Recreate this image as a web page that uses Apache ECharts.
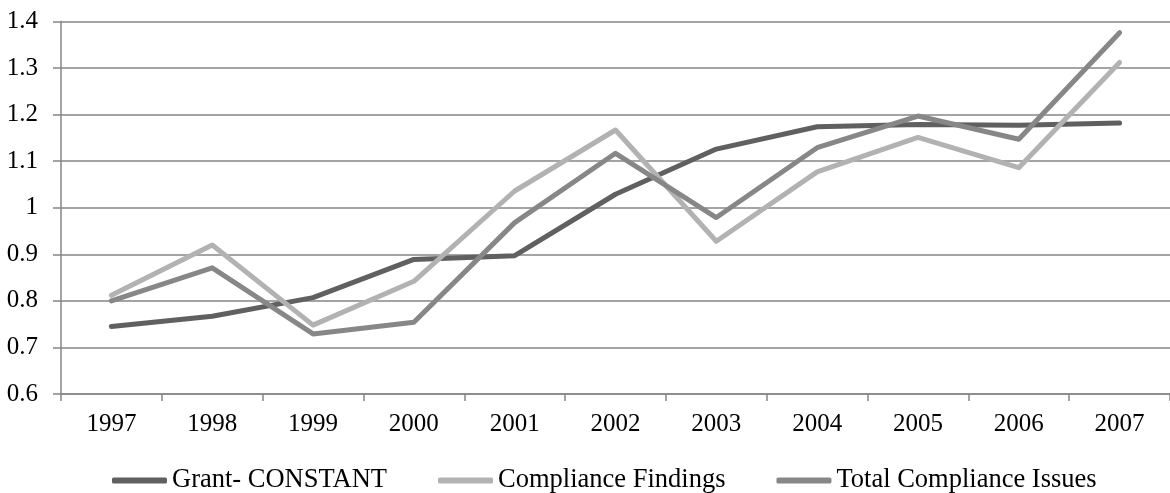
<!DOCTYPE html>
<html>
<head>
<meta charset="utf-8">
<script src="https://cdn.jsdelivr.net/npm/echarts@6/dist/echarts.min.js"></script>
<style>
  html, body { margin: 0; padding: 0; background: #fff; }
  #chart { width: 1170px; height: 493px; }
</style>
</head>
<body>
<div id="chart"></div>
<script>
// Years on the category axis
const years = ['1997', '1998', '1999', '2000', '2001', '2002', '2003', '2004', '2005', '2006', '2007'];

// Index values per year
const grantConstant = [0.745, 0.767, 0.807, 0.889, 0.897, 1.029, 1.126, 1.174, 1.179, 1.177, 1.182];
const complianceFindings = [0.812, 0.920, 0.748, 0.842, 1.036, 1.167, 0.928, 1.077, 1.151, 1.086, 1.312];
const totalComplianceIssues = [0.800, 0.871, 0.729, 0.754, 0.968, 1.117, 0.979, 1.129, 1.197, 1.147, 1.376];

const seriesNames = ['Grant- CONSTANT', 'Compliance Findings', 'Total Compliance Issues'];
const seriesColors = ['#606060', '#b2b2b2', '#878787'];

const font = '"Liberation Serif", "Times New Roman", serif';

const chart = echarts.init(document.getElementById('chart'), null, { renderer: 'canvas' });

function lineSeries(name, data, color) {
  return {
    name: name,
    type: 'line',
    data: data,
    symbol: 'none',
    lineStyle: { width: 5, color: color, cap: 'round', join: 'round' },
    itemStyle: { color: color },
    z: 3
  };
}

chart.setOption({
  animation: false,
  backgroundColor: '#ffffff',
  grid: { left: 61, top: 21.5, width: 1116, height: 372.5, containLabel: false },
  legend: {
    top: 462,
    left: 107,
    itemWidth: 55,
    itemHeight: 6,
    itemGap: 51,
    icon: 'roundRect',
    textStyle: { fontFamily: font, fontSize: 26.5, color: '#000' },
    data: seriesNames
  },
  xAxis: {
    type: 'category',
    data: years,
    boundaryGap: true,
    axisLine: { lineStyle: { color: '#868686', width: 1.5 } },
    axisTick: { show: true, length: 7, lineStyle: { color: '#868686', width: 1.5 } },
    axisLabel: { fontFamily: font, fontSize: 25, color: '#000', margin: 18 },
    splitLine: { show: false }
  },
  yAxis: {
    type: 'value',
    min: 0.6,
    max: 1.4,
    interval: 0.1,
    axisLine: { show: true, lineStyle: { color: '#868686', width: 1.5 } },
    axisTick: { show: true, length: 8, lineStyle: { color: '#868686', width: 1.5 } },
    axisLabel: {
      fontFamily: font, fontSize: 25, color: '#000', margin: 23,
      formatter: function (v) { return String(parseFloat(v.toFixed(1))); }
    },
    splitLine: { show: true, lineStyle: { color: '#868686', width: 1.5 } }
  },
  series: [
    lineSeries(seriesNames[0], grantConstant, seriesColors[0]),
    lineSeries(seriesNames[1], complianceFindings, seriesColors[1]),
    lineSeries(seriesNames[2], totalComplianceIssues, seriesColors[2])
  ]
});
</script>
</body>
</html>
